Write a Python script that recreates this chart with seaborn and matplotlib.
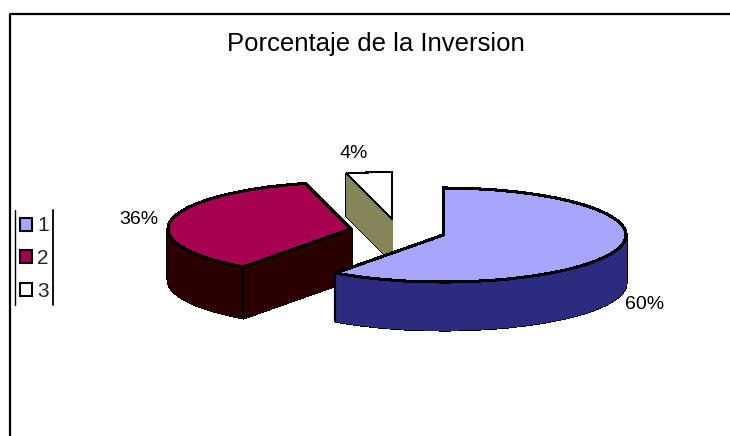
import numpy as np
import matplotlib
matplotlib.use("Agg")
import matplotlib.pyplot as plt
from matplotlib.lines import Line2D
from matplotlib.patches import Patch
import seaborn as sns

categories = ["1", "2", "3"]
values = [60, 36, 4]
top_colors = ["#A6A6FF", "#A80050", "#FFFFFF"]
side_colors = ["#2B2B80", "#2A0000", "#858558"]
title = "Porcentaje de la Inversion"

sns.set_theme(style="white")
plt.rcParams["font.family"] = ["Liberation Sans", "DejaVu Sans"]

W, H = 730, 436
RX, RY = 183.0, 47.0        # pie radii on screen, px
APEX = (443.0, 235.0)       # screen position of data origin
CENTER = (-0.247, 0.08)
EXPLODE = 0.26
DEPTHS = [48, 51, 42]       # extrusion per slice, px
OUTLINE = [1.5, 1.5, 0.9]
TOP_LW = [1.5, 1.5, 0.7]

fig = plt.figure(figsize=(W / 100, H / 100), dpi=100, facecolor="white")
ax = fig.add_axes([0, 0, 1, 1])


def draw(i, dy_px, color, edge, lw, z):
    cols = [color if k == i else "none" for k in range(len(values))]
    wedges, _ = ax.pie(
        values, colors=cols, startangle=90, counterclock=False,
        explode=[EXPLODE] * len(values),
        center=(CENTER[0], CENTER[1] - dy_px / RY),
        wedgeprops=dict(edgecolor=edge, linewidth=lw, antialiased=False, zorder=z),
    )
    for k, w in enumerate(wedges):
        if k != i:
            w.remove()
    return wedges[i]


def corner_line(wedge, theta, depth, z):
    a = np.deg2rad(theta)
    cx = wedge.center[0] + np.cos(a)
    cy = wedge.center[1] + np.sin(a)
    ax.plot([cx, cx], [cy, cy - depth / RY], color="black", lw=1.6, zorder=z)


z = 2
for i in [2, 1, 0]:                 # back to front
    depth = DEPTHS[i]
    for d in range(0, depth + 1):
        draw(i, d, "black", "black", OUTLINE[i], z)
    z += 1
    for d in range(0, depth + 1):
        draw(i, d, side_colors[i], side_colors[i], 0.3, z)
    z += 1
    w = draw(i, 0, top_colors[i], "black", TOP_LW[i], z)
    z += 1
    if i == 1:
        corner_line(w, w.theta2, depth, z)      # front corner of slice 2
    if i == 0:
        corner_line(w, w.theta1 % 360, depth, z)  # left corner of slice 1
    z += 1

ax.set_aspect("auto")
ax.set_xlim(-APEX[0] / RX, (W - APEX[0]) / RX)
ax.set_ylim(-(H - APEX[1]) / RY, APEX[1] / RY)
ax.axis("off")


def fx(x):
    return x / W


def fy(y):
    return 1 - y / H


# chart frame
fig.add_artist(Line2D([fx(10), fx(10), fx(730)], [fy(436), fy(14), fy(14)],
                      color="black", lw=1.6))
# legend side rules
for x in (14.5, 52.5):
    fig.add_artist(Line2D([fx(x), fx(x)], [fy(210), fy(305)], color="black",
                          lw=1.0 if x < 20 else 1.3))

fig.text(fx(376), fy(44), title, ha="center", va="center", fontsize=18.5, color="black")
label_pos = [(645, 304), (139, 219), (354, 154)]
for v, (x, y) in zip(values, label_pos):
    fig.text(fx(x), fy(y), f"{v}%", ha="center", va="center", fontsize=14, color="black")

handles = [Patch(facecolor=c, edgecolor="black", linewidth=1.5) for c in top_colors]
fig.legend(handles, categories, loc="center left", bbox_to_anchor=(fx(20), fy(258.5)),
           borderaxespad=0, borderpad=0, frameon=False, fontsize=15,
           labelspacing=0.65, handlelength=0.58, handleheight=0.58, handletextpad=0.25)

fig.savefig("out.png", dpi=100, facecolor="white")
